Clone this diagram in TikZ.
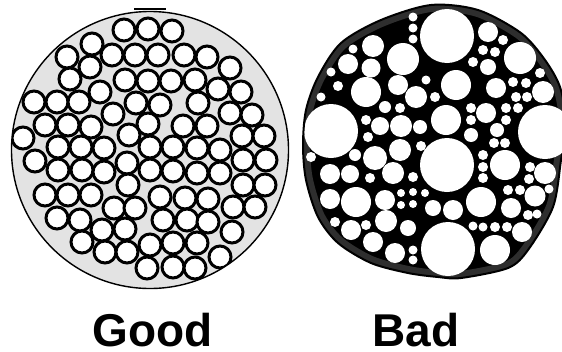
\documentclass[tikz,border=0pt]{standalone}
\usepackage{fontspec}
\setmainfont{Liberation Sans}
\begin{document}
\begin{tikzpicture}[x=1pt,y=-1pt,
  goodcell/.style={fill=white,draw=black,line width=3pt},
  lbl/.style={font=\fontsize{46}{46}\selectfont\bfseries, inner sep=0pt, anchor=base}]
\useasboundingbox (0,0) rectangle (562,351);
% ---------- Good ----------
\fill[gray!22] (150,150) circle[radius=138.5pt];
\begin{scope}
\clip (150,150) circle[radius=138.5pt];
\foreach \x/\y in {124/30, 148/29, 172/31,
 92/44, 67/57, 112/55, 135/55, 158/55, 184/55, 207/57, 230/68, 90/67,
 70/79, 125/80, 148/81, 171/81, 195/80, 218/89, 241/92, 100/92,
 34/102, 57/102, 79/102, 136/103, 160/105, 198/103, 230/113, 252/115, 113/114,
 45/125, 68/125, 91/127, 148/124, 183/126, 207/126, 242/136, 264/136, 129/135,
 23/138, 58/147, 81/147, 104/148, 150/147, 173/147, 197/148, 220/150, 243/160, 266/160,
 35/161, 58/170, 82/170, 104/172, 127/163, 150/170, 173/171, 197/173, 220/173, 243/185, 265/185,
 45/195, 68/195, 91/195, 128/185, 160/197, 185/198, 208/199, 233/207, 255/207, 114/208, 135/208,
 57/218, 80/220, 163/220, 187/220, 208/222, 232/232, 102/230, 125/229,
 82/242, 105/252, 127/252, 150/245, 173/243, 197/243, 220/257,
 147/268, 173/267, 195/268}
  \draw[goodcell] (\x,\y) circle[radius=11pt];
\end{scope}
\draw[line width=1.4pt] (150,150) circle[radius=138.5pt];
\draw[line width=2.2pt] (134,9) -- (166,9);
% ---------- Bad ----------
\def\badrim{plot[smooth cycle] coordinates {(431,5) (478,10) (521,33) (545,60) (560,87) (566,122) (561,160) (553,207) (528,250) (508,268) (461,278) (438,277) (408,273) (371,263) (338,243) (318,217) (306,180) (303,145) (306,110) (318,77) (341,43) (381,20)}}
\fill[black] \badrim;
\begin{scope}
\clip \badrim;
\draw[black!82, line width=14pt] \badrim;
\foreach \x/\y/\r in {447/36/27, 331/131/27, 447/165/27, 448/249/27,
 413/17/4.5, 413/28/4.5, 413/39/4.5,
 373/46/11, 353/49/4.5, 403/59/16, 371/68/9.5, 348/64/10, 331/72/4.5, 366/92/15, 398/85/10, 321/97/4.5, 338/86/5, 416/97/11, 426/80/4.5, 385/107/6, 400/108/5, 380/126/9, 401/126/11, 420/127/7, 366/120/5, 368/137/5,
 488/32/10, 503/40/5, 483/50/5, 495/52/5, 520/58/16, 473/62/5, 488/67/8, 456/85/15, 496/88/10, 513/82/5, 526/83/5, 516/97/5, 527/97/5, 540/73/5, 543/92/11, 435/97/5, 446/120/15, 471/108/5, 471/120/5, 486/113/10, 506/108/5, 506/120/5, 518/108/5, 471/135/7, 497/130/7,
 483/155/5, 483/167/5, 483/178/5, 494/143/5, 505/143/5, 505/165/15, 530/167/5, 529/179/5, 545/173/11, 549/189/4.5, 508/190/5, 520/190/5, 481/202/15, 511/208/10, 535/196/10.5, 537/214/4.5, 528/215/5, 453/210/10, 433/208/8, 473/226/4.5, 483/227/4.5, 495/227/5, 507/227/5, 522/232/10, 495/250/15,
 311/157/5, 355/155/6, 375/158/12, 330/174/10, 350/174/9, 370/178/5, 393/173/11, 400/150/11, 421/146/5, 413/177/5, 330/199/10, 356/202/15, 385/200/10, 401/193/4, 401/205/4, 413/192/4, 413/204/4, 425/193/4, 386/221/11, 366/225/5, 351/230/10, 335/222/5, 408/228/8, 373/242/10, 395/253/10, 413/250/4.5, 413/260/4.5}
  \fill[white] (\x,\y) circle[radius=\r pt];
\end{scope}
\draw[line width=2pt] \badrim;
\fill[white] (545,132) circle[radius=27pt];
% ---------- labels ----------
\node[lbl] (good) at (153,346) {Good};
\node[lbl] (bad) at (416,346) {Bad};
\end{tikzpicture}
\end{document}
